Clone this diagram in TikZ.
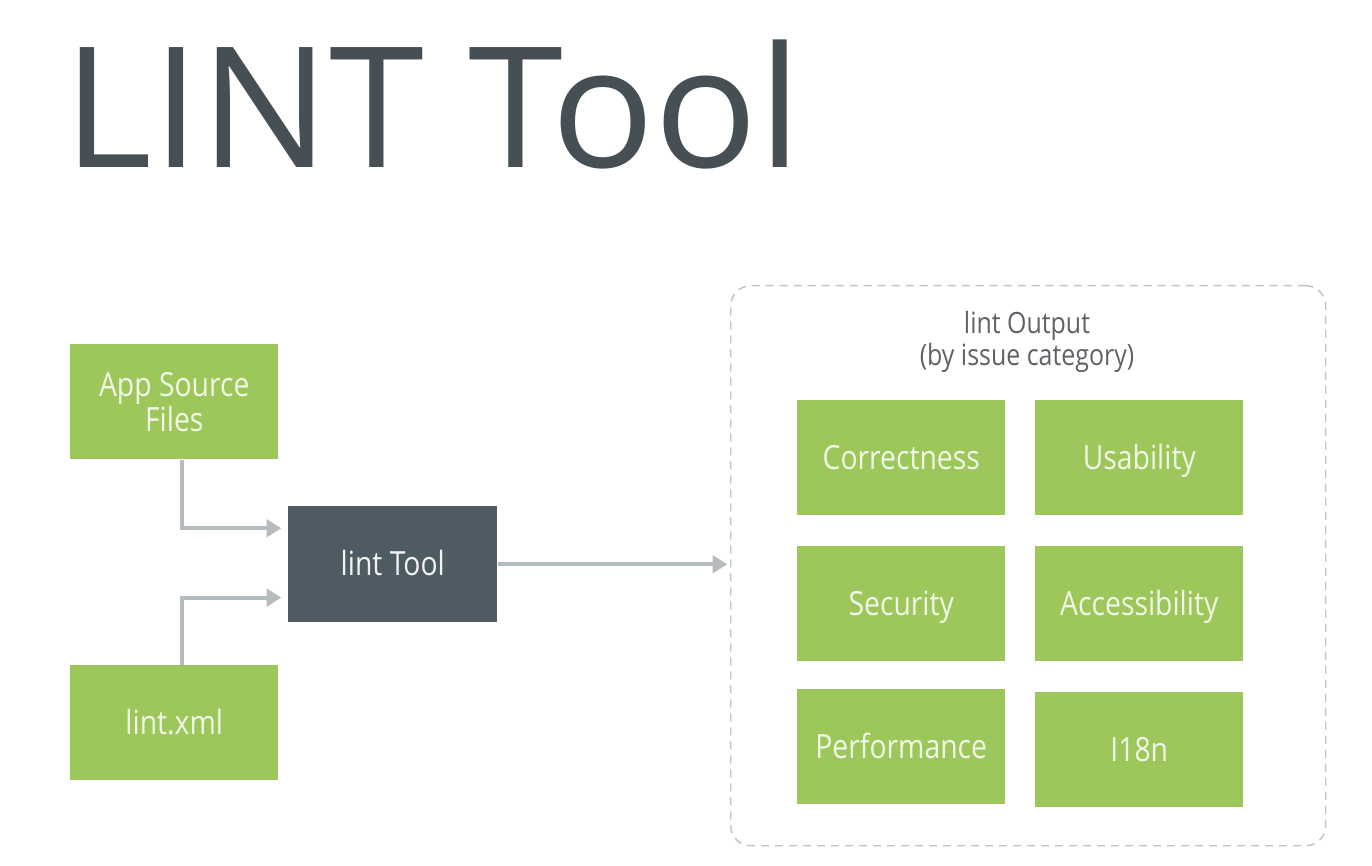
\documentclass[tikz,border=0pt]{standalone}
\usepackage{fontspec}
\setmainfont{Open Sans}
\newfontfamily\condfont[FakeStretch=0.85]{Open Sans}
\usetikzlibrary{arrows.meta}
\definecolor{leafgreen}{HTML}{9DC75B}
\definecolor{slate}{HTML}{4F5B62}
\definecolor{titlegray}{HTML}{454F54}
\definecolor{arrowgray}{HTML}{B4BCBF}
\definecolor{dashgray}{HTML}{BFC4C6}
\definecolor{labelgray}{HTML}{5F6368}
\definecolor{paletext}{HTML}{F1F7E6}
\tikzset{
  boxbase/.style={minimum width=156pt, minimum height=86.25pt, inner sep=0pt,
    anchor=north west, align=center, font=\condfont\fontsize{25}{29}\selectfont},
  greenbox/.style={boxbase, fill=leafgreen, text=paletext, text height=17.5pt, text depth=0pt},
  greenmulti/.style={boxbase, fill=leafgreen, text=paletext},
  toolbox/.style={boxbase, fill=slate, minimum width=156.75pt, minimum height=87pt,
    text=white!92!slate, text height=17.5pt, text depth=0pt},
  flowarrow/.style={draw=arrowgray, line width=3pt, -{Triangle[length=11pt,width=13pt]}},
  outbox/.style={draw=dashgray, line width=1.1pt, dash pattern=on 6pt off 4.5pt, rounded corners=15pt,
    minimum width=446.25pt, minimum height=420pt, anchor=north west, inner sep=0pt},
}
\begin{document}
\begin{tikzpicture}[x=0.75pt,y=-0.75pt]
\fill[white] (0,0) rectangle (1372,866);
\useasboundingbox (0,0) rectangle (1372,866);

\node[anchor=base west, inner sep=0pt, text=titlegray, xscale=1.02, transform shape,
  font=\fontsize{126}{126}\selectfont] (title) at (63,168) {LINT Tool};

\node[greenmulti] (app) at (70,344) {App Source\\[-3pt]Files};
\node[greenbox] (xml) at (70,665) {lint.xml};
\node[toolbox] (tool) at (288,506) {lint Tool};

\node[outbox] (out) at (730,285) {};
\node[align=center, text=labelgray, font=\condfont\fontsize{22}{24}\selectfont] (outlabel) at (1027,342)
  {lint Output\\(by issue category)};

\node[greenbox] (corr) at (797,400) {Correctness};
\node[greenbox] (usab) at (1035,400) {Usability};
\node[greenbox] (secu) at (797,546) {Security};
\node[greenbox] (acce) at (1035,546) {Accessibility};
\node[greenbox] (perf) at (797,689) {Performance};
\node[greenbox] (i18n) at (1035,692) {I18n};

\draw[flowarrow, shorten >=5pt] ([xshift=6pt]app.south) |- ([yshift=27pt]tool.west);
\draw[flowarrow, shorten >=5pt] ([xshift=6pt]xml.north) |- ([yshift=-25pt]tool.west);
\draw[flowarrow, shorten >=2pt] (tool.east) -- (tool.east -| out.west);
\end{tikzpicture}
\end{document}
